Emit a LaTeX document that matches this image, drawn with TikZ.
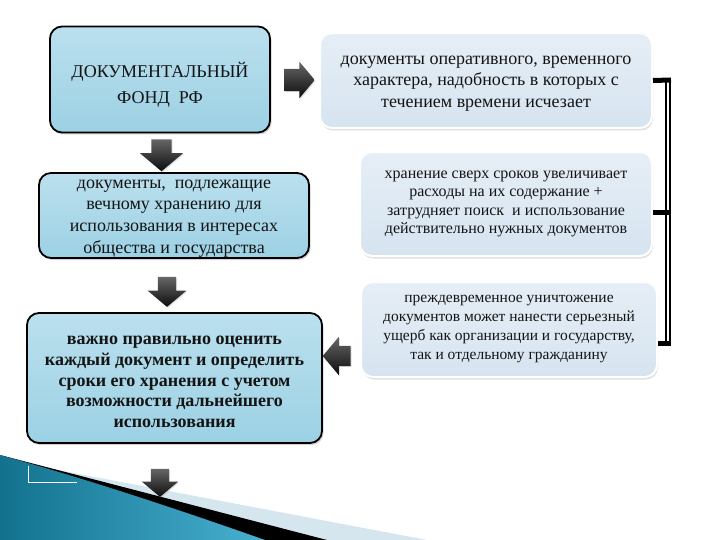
\documentclass[tikz,border=0pt]{standalone}
\usepackage{fontspec}
\setmainfont{Liberation Serif}
\usetikzlibrary{shapes.arrows,shadows,calc}

\definecolor{fondtop}{HTML}{BBE0EE}
\definecolor{fondmid}{HTML}{CFEAF4}
\definecolor{fondbot}{HTML}{9CD1E4}
\definecolor{paletop}{HTML}{E6EEF6}
\definecolor{palebot}{HTML}{D6E4F0}
\definecolor{swooshdark}{HTML}{12728E}
\definecolor{swooshlight}{HTML}{48B0D0}
\definecolor{swooshpale}{HTML}{D5E6EF}

\tikzset{
	fondbox/.style={draw=black, line width=1.8pt, rounded corners=12pt, top color=fondtop, middle color=fondmid, bottom color=fondbot, inner sep=0pt, drop shadow={opacity=0.35, shadow xshift=1.5pt, shadow yshift=-2pt}},
	notebox/.style={draw=white, line width=2pt, rounded corners=12pt, top color=paletop, bottom color=palebot, inner sep=0pt, drop shadow={opacity=0.25, shadow xshift=1pt, shadow yshift=-2.5pt}},
	boxtext/.style={align=center, inner sep=0pt, text=black!92},
	blockarrow/.style={single arrow, draw=none, inner xsep=0pt, single arrow head indent=0pt, single arrow tip angle=100, top color=black!60, bottom color=black!95, drop shadow={opacity=0.25, shadow xshift=1pt, shadow yshift=-1pt}},
	bracketline/.style={line width=2pt, double=white, double distance=1.4pt},
	brackettick/.style={line width=5pt},
}

\begin{document}
\begin{tikzpicture}[x=1pt, y=-1pt]
			%%%%% START %%%%%
			\useasboundingbox (0, 0) rectangle (720, 540);
			
			% slide background swoosh
			\fill[swooshpale] (0, 459) -- (427, 540) -- (0, 540) -- cycle;
			\fill[black] (0, 455) -- (327, 540) -- (0, 540) -- cycle;
			\shade[left color=swooshdark, right color=swooshlight] (0, 455) .. controls (90, 480) and (180, 510) .. (265, 540) -- (0, 540) -- cycle;
			\draw[white, line width=0.8pt] (28, 466) -- (28, 482) -- (77, 482);
			
			% left column
			\node[fondbox, minimum width=220pt, minimum height=106pt] (fond) at (160, 79.5) {};
			\node[boxtext, font=\fontsize{18}{26}\selectfont] (fondtxt) at ($(fond)+(0, 5)$) {ДОКУМЕНТАЛЬНЫЙ\\ФОНД\ \ РФ};
			\node[fondbox, minimum width=270pt, minimum height=85pt] (vechn) at (174, 215.5) {};
			\node[boxtext, font=\fontsize{18}{21.7}\selectfont] (vechntxt) at ($(vechn)+(0, 3)$) {документы,\ \ подлежащие\\вечному хранению для\\использования в интересах\\общества и государства};
			\node[fondbox, minimum width=295pt, minimum height=130pt] (ocenka) at (174.5, 378) {};
			\node[boxtext, font=\bfseries\fontsize{18}{20.8}\selectfont] (ocenkatxt) at ($(ocenka)+(0, 4)$) {важно правильно оценить\\каждый документ и определить\\сроки его хранения с учетом\\возможности дальнейшего\\использования};
			
			% right column
			\node[notebox, minimum width=332pt, minimum height=95pt] (operat) at (486, 80.5) {};
			\node[boxtext, font=\fontsize{18}{21.7}\selectfont] (operattxt) at ($(operat)+(0, 3)$) {документы оперативного, временного\\характера, надобность в которых с\\течением времени исчезает};
			\node[notebox, minimum width=292pt, minimum height=104pt] (sverh) at (506, 204) {};
			\node[boxtext, font=\fontsize{16}{18.2}\selectfont] (sverhtxt) at (sverh) {хранение сверх сроков увеличивает\\расходы на их содержание +\\затрудняет поиск\ \ и использование\\действительно нужных документов};
			\node[notebox, minimum width=296pt, minimum height=95pt] (prezhd) at (509, 329.5) {};
			\node[boxtext, font=\fontsize{15.5}{19}\selectfont] (prezhdtxt) at (prezhd) {преждевременное уничтожение\\документов может нанести серьезный\\ущерб как организации и государству,\\так и отдельному гражданину};
			
			% block arrows
			\node[blockarrow, minimum height=30pt, minimum width=36pt, inner ysep=11pt, single arrow head extend=7pt] (arrR) at (295, 80) {};
			\node[blockarrow, rotate=-90, minimum height=32pt, minimum width=43pt, inner ysep=10pt, single arrow head extend=11.5pt] (arrD1) at (161.5, 151) {};
			\node[blockarrow, rotate=-90, minimum height=30pt, minimum width=38pt, inner ysep=9pt, single arrow head extend=10pt] (arrD2) at (167, 288) {};
			\node[blockarrow, rotate=180, minimum height=28pt, minimum width=38pt, inner ysep=10pt, single arrow head extend=9pt] (arrL) at (341, 356) {};
			\node[blockarrow, rotate=-90, minimum height=28pt, minimum width=36pt, inner ysep=9pt, single arrow head extend=9pt] (arrD3) at (160, 479) {};
			
			% bracket on the right
			\coordinate (brtop) at (668, 80);
			\coordinate (brbot) at (668, 343);
			\draw[bracketline] (brtop) -- (brbot);
			\draw[brackettick] (operat.east) -- ($(brtop)+(3, 0)$);
			\draw[brackettick] ([yshift=-9pt]sverh.east) -- ($(brtop)+(3, 133)$);
			\draw[brackettick] ([yshift=-13.5pt]prezhd.east) -- ($(brbot)+(3, 0)$);
			
			%%%%% END %%%%%
\end{tikzpicture}
\end{document}
